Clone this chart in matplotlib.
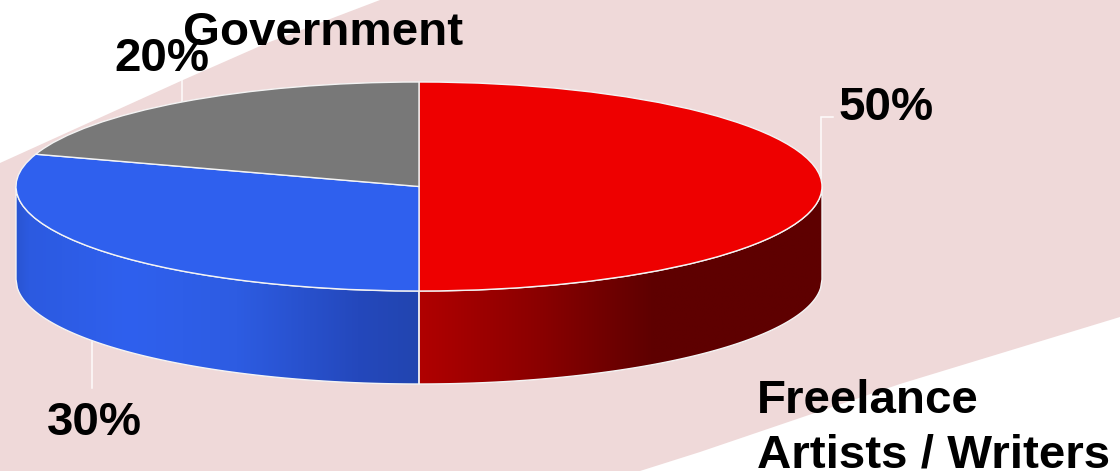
import numpy as np
import matplotlib
matplotlib.use("Agg")
import matplotlib.pyplot as plt
from matplotlib.colors import LinearSegmentedColormap
from matplotlib.patches import Polygon

# Data
shares = [50, 30, 20]
slice_colors = ["#EE0000", "#2F60EE", "#787878"]
percent_labels = ["50%", "30%", "20%"]
category_labels = ["Government", "Freelance\nArtists / Writers"]

W, H = 1120, 471
CX, CY, RX, RY, DEPTH = 419.0, 186.5, 403.0, 104.5, 93.0
BG = "#EFD9D9"

plt.rcParams["font.family"] = ["Liberation Sans", "DejaVu Sans"]
fig = plt.figure(figsize=(W / 100, H / 100), dpi=100, facecolor="white")

# Background band + text in pixel coordinates
bg = fig.add_axes([0, 0, 1, 1], zorder=0)
bg.set_xlim(0, W)
bg.set_ylim(H, 0)
bg.axis("off")
bg.add_patch(Polygon([(0, 163), (183, 80), (267, 43), (380, 0), (1120, 0), (1120, 317),
                      (900, 384), (700, 452), (640, 471), (0, 471)],
                     closed=True, facecolor=BG, edgecolor="none"))

# Leaders
for xs, ys in [([821, 821, 833], [186, 117, 117]), ([182, 182], [102, 80]), ([92, 92], [342, 388])]:
    bg.plot(xs, ys, color="white", lw=1.1, solid_joinstyle="miter", alpha=0.9)

FS = 34.2
txt = dict(color="black", fontsize=FS, fontweight="bold", va="baseline", ha="left")
bg.text(838, 120, percent_labels[0], **txt)
bg.text(47, 435, percent_labels[1], **txt)
bg.text(114, 71, percent_labels[2], **txt)
bg.text(183, 45, category_labels[0], **txt)
l1, l2 = category_labels[1].split("\n")
bg.text(757, 413, l1, **txt)
bg.text(757, 467, l2, **txt)

# Pie axes: one data unit = one ellipse radius
ax = fig.add_axes([0, 0, 1, 1], zorder=1)
ax.patch.set_alpha(0)
wedges, _ = ax.pie(shares, colors=slice_colors, startangle=90, counterclock=False,
                   radius=1.0, wedgeprops=dict(edgecolor="#F4F4F4", linewidth=1.0),
                   frame=False)
ax.set_aspect("auto")
xlim = ((0 - CX) / RX, (W - CX) / RX)
ylim = ((CY - H) / RY, CY / RY)
ax.set_xlim(*xlim)
ax.set_ylim(*ylim)
ax.axis("off")
d = DEPTH / RY

blue_cmap = LinearSegmentedColormap.from_list("b", [(0, "#2A55D2"), (0.03, "#2C5AE0"), (0.28, "#2F60EE"),
                                                    (0.55, "#2D5CE2"), (0.85, "#2448BC"), (1, "#2245B0")])
red_cmap = LinearSegmentedColormap.from_list("r", [(0, "#B00000"), (0.30, "#8A0000"), (0.58, "#5E0000"),
                                                   (1, "#5E0000")])


def side(x0, x1, cmap):
    xs = np.linspace(x0, x1, 300)
    top = -np.sqrt(np.clip(1 - xs ** 2, 0, 1))
    verts = np.r_[np.c_[xs, top], np.c_[xs[::-1], (top - d)[::-1]]]
    poly = Polygon(verts, closed=True, facecolor="none", edgecolor="#F4F4F4", linewidth=1.0,
                   transform=ax.transData, zorder=2)
    ax.add_patch(poly)
    im = ax.imshow(np.linspace(0, 1, 256)[None, :], cmap=cmap, aspect="auto",
                   extent=(x0, x1, -1 - d, 0), zorder=1.5, interpolation="bilinear")
    im.set_clip_path(poly)


side(-1, 0, blue_cmap)
side(0, 1, red_cmap)
ax.set_xlim(*xlim)
ax.set_ylim(*ylim)
for w in wedges:
    w.set_zorder(3)

fig.savefig("out.png", dpi=100, facecolor="white")
